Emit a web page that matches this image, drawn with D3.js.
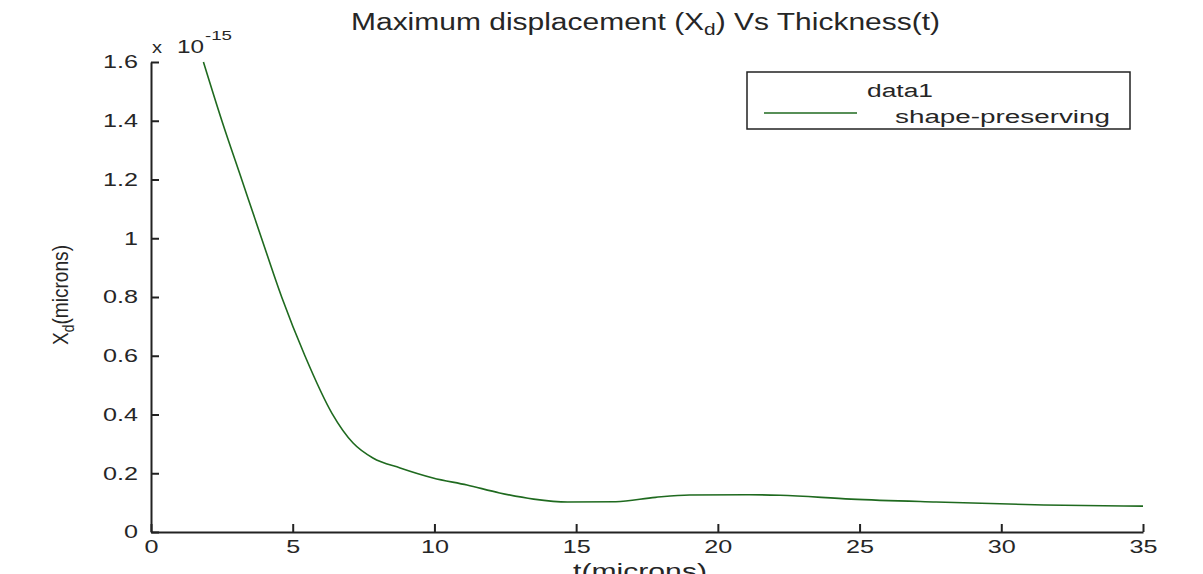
<!DOCTYPE html>
<html>
<head>
<meta charset="utf-8">
<script src="https://cdn.jsdelivr.net/npm/d3@7"></script>
<style>
  body { margin: 0; background: #fff; }
  svg { display: block; font-family: "Liberation Sans", Arial, sans-serif; }
</style>
</head>
<body>
<svg id="viz" width="1203" height="574"></svg>
<script>
// values (displacement in units of 1e-15)
var thickness = [1.85, 2.5, 3.2, 3.9, 4.61, 5.43, 6.38, 7.13, 7.83, 8.79, 9.95, 11.15, 12.3, 13.5, 14.7, 16.4, 17.8, 19.0, 21.1, 22.2, 24.7, 27.7, 31.5, 35];
var displacement = [1.6, 1.4, 1.2, 1.0, 0.8, 0.6, 0.405, 0.303, 0.252, 0.218, 0.184, 0.16, 0.133, 0.112, 0.102, 0.103, 0.118, 0.126, 0.127, 0.125, 0.112, 0.102, 0.092, 0.088];
var xTicks = [0, 5, 10, 15, 20, 25, 30, 35];
var yTicks = [0, 0.2, 0.4, 0.6, 0.8, 1, 1.2, 1.4, 1.6];
var seriesName = 'data1';
var fitName = 'shape-preserving';

var viz = d3.select('#viz');
var stretch = 1.4;
var ink = '#262626';

var x = d3.scaleLinear().domain([0, 35]).range([151, 1143]);
var y = d3.scaleLinear().domain([0, 1.6]).range([532, 62]);

// squeeze/stretch a text to a given width
function fit(sel, w) {
	sel.attr('textLength', w).attr('lengthAdjust', 'spacingAndGlyphs');
	return sel;
}

// y axis
var gy = viz.append('g')
		.attr('transform', 'translate(' + x(0) + ',0)')
		.call(d3.axisLeft(y).tickValues(yTicks).tickSizeInner(-8).tickSizeOuter(0)
			.tickFormat(d3.format('~g')));
gy.select('.domain').attr('stroke', '#222').attr('stroke-width', 2);
gy.selectAll('.tick line').attr('stroke', '#222').attr('stroke-width', 2);
gy.selectAll('.tick text')
		.attr('font-size', 18).attr('fill', ink).attr('font-family', null)
		.attr('x', -13 / stretch)
		.attr('transform', 'scale(' + stretch + ',1)');

// x axis
var gx = viz.append('g')
		.attr('transform', 'translate(0,' + y(0) + ')')
		.call(d3.axisBottom(x).tickValues(xTicks).tickSizeInner(-8).tickSizeOuter(0));
gx.select('.domain').attr('stroke', '#222').attr('stroke-width', 2);
gx.selectAll('.tick line').attr('stroke', '#222').attr('stroke-width', 2);
gx.selectAll('.tick text')
		.attr('font-size', 18).attr('fill', ink).attr('font-family', null)
		.attr('y', 21).attr('dy', 0)
		.attr('transform', 'scale(' + stretch + ',1)');

// curve
var line = d3.line()
		.x(function(d, i) { return x(thickness[i]); })
		.y(function(d) { return y(d); })
		.curve(d3.curveMonotoneX);
viz.append('path')
		.datum(displacement)
		.attr('d', line)
		.attr('fill', 'none')
		.attr('stroke', '#1f6a1f')
		.attr('stroke-width', 1.6);

// exponent
fit(viz.append('text').attr('x', 152).attr('y', 53).attr('font-size', 16).attr('fill', ink).text('x'), 10);
fit(viz.append('text').attr('x', 177).attr('y', 53).attr('font-size', 19).attr('fill', ink).text('10'), 27);
fit(viz.append('text').attr('x', 205).attr('y', 40).attr('font-size', 13).attr('fill', ink).text('-15'), 27);

// title
var title = viz.append('text').attr('x', 351).attr('y', 30).attr('font-size', 23).attr('fill', ink);
title.append('tspan').text('Maximum displacement (X');
title.append('tspan').attr('dy', 5).attr('font-size', 16).text('d');
title.append('tspan').attr('dy', -5).text(') Vs Thickness(t)');
fit(title, 589);

// y label
var ylab = viz.append('text').attr('transform', 'translate(68,345) rotate(-90)')
		.attr('font-size', 22).attr('fill', ink);
ylab.append('tspan').text('X');
ylab.append('tspan').attr('dy', 6).attr('font-size', 16).text('d');
ylab.append('tspan').attr('dy', -6).text('(microns)');
fit(ylab, 100);

// x label (cut by the bottom edge, as in the figure)
fit(viz.append('text').attr('x', 573).attr('y', 579).attr('font-size', 22).attr('fill', ink).text('t(microns)'), 134);

// legend
viz.append('rect').attr('x', 747).attr('y', 72).attr('width', 383).attr('height', 57)
		.attr('fill', '#fff').attr('stroke', '#222').attr('stroke-width', 1.5);
fit(viz.append('text').attr('x', 867).attr('y', 97).attr('font-size', 18).attr('fill', ink).text(seriesName), 66);
viz.append('line').attr('x1', 764).attr('x2', 857).attr('y1', 113).attr('y2', 113)
		.attr('stroke', '#1f6a1f').attr('stroke-width', 1.3);
fit(viz.append('text').attr('x', 895).attr('y', 123).attr('font-size', 18).attr('fill', ink).text(fitName), 215);
</script>
</body>
</html>
